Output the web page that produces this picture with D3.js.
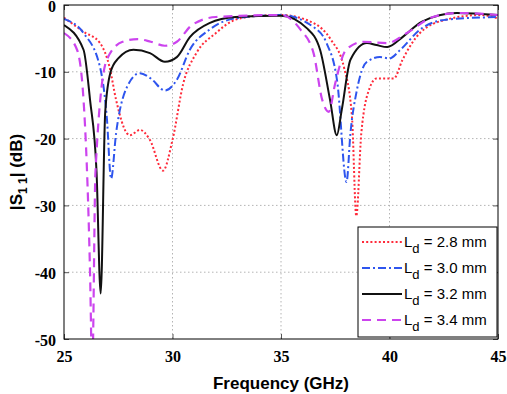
<!DOCTYPE html>
<html>
<head>
<meta charset="utf-8">
<script src="https://cdn.jsdelivr.net/npm/d3@7"></script>
<style>
body { margin: 0; background: #fff; }
svg text.tk { font-family: "Liberation Serif", "DejaVu Serif", serif !important; font-weight: 700; font-size: 16px; }
</style>
</head>
<body>
<script>
// data
const xTicks = [25, 30, 35, 40, 45];
const yTicks = [0, -10, -20, -30, -40, -50];
const legendLabels = ["2.8 mm", "3.0 mm", "3.2 mm", "3.4 mm"];

const f28 = [25, 25.9, 26.66, 27.1, 27.4, 27.9, 28.04, 28.5, 28.96, 29.56, 30.0, 30.5, 31.1, 32.0, 32.9, 34, 35, 36.5, 37.3, 37.9, 38.27, 38.47, 38.7, 39.1, 39.4, 40.2, 40.6, 41.4, 42.6, 44.2, 45];
const s28 = [-1.9, -4.0, -5.7, -9.3, -14.2, -19.2, -19.5, -18.7, -20.2, -24.8, -20.2, -11.7, -7.2, -4.2, -2.2, -1.6, -1.5, -2.7, -5.2, -9.3, -16.7, -31.6, -19.2, -12.3, -11, -11, -8.2, -4.2, -2.2, -1.5, -2];

const f30 = [25, 25.9, 26.66, 26.97, 27.17, 27.4, 27.9, 28.5, 29.0, 29.65, 30.2, 30.8, 31.7, 32.9, 35, 36.5, 37.1, 37.6, 38.02, 38.2, 38.5, 38.96, 39.56, 40.0, 40.5, 41.4, 42.6, 45];
const s30 = [-2.1, -4.2, -9.3, -16.7, -26, -19.2, -12.3, -10.2, -11, -12.8, -11.2, -6.7, -3.7, -2, -1.5, -3.3, -5.7, -11.7, -26.5, -19.2, -12.7, -8.5, -7.8, -8, -6.7, -3.7, -2.2, -1.8];

const f32 = [25, 25.9, 26.2, 26.5, 26.69, 26.9, 27.15, 27.5, 28.2, 28.96, 29.65, 30.2, 30.8, 31.7, 32.9, 35, 36.2, 36.8, 37.26, 37.57, 37.8, 38.2, 38.96, 39.4, 39.9, 40.6, 41.5, 43.1, 45];
const s32 = [-3, -6.7, -14.2, -25, -43.2, -16, -10, -8, -6.7, -7.2, -8.5, -7.8, -4.8, -2.7, -1.8, -1.6, -3.5, -6.7, -14.2, -19.5, -15.7, -8.2, -5.7, -6, -6.3, -4.8, -2.5, -1.2, -1.5];

const f34 = [25, 25.6, 25.9, 26.2, 26.3, 26.45, 26.97, 27.7, 28.4, 29.0, 29.65, 30.2, 30.9, 32.0, 35, 35.9, 36.5, 36.9, 37.2, 37.5, 38.0, 38.8, 39.9, 40.8, 42.0, 43.2, 45];
const s34 = [-4.2, -6.7, -14.2, -40, -55, -25, -8.2, -5.5, -5.1, -5.5, -6.1, -5.5, -3, -1.8, -1.5, -3.7, -7.2, -14.2, -16, -11.7, -6.7, -5.5, -5.7, -4.2, -1.8, -1.2, -1.5];

const series = [
  {f: f28, s: s28, color: "#ff2a3a", dash: "2,2.2", width: 2},
  {f: f30, s: s30, color: "#2e55ee", dash: "8,3,2,3", width: 2},
  {f: f32, s: s32, color: "#111", dash: null, width: 2},
  {f: f34, s: s34, color: "#cc44ee", dash: "9,6", width: 2.2}
];

const margin = {top: 5, right: 9, bottom: 55, left: 64},
    width = 507 - margin.left - margin.right,
    height = 394 - margin.top - margin.bottom;

const svg = d3.select("body").append("svg")
    .attr("width", 507)
    .attr("height", 394);

const g = svg.append("g")
    .attr("transform", "translate(" + margin.left + "," + margin.top + ")");

const x = d3.scaleLinear().domain([25, 45]).range([0, width]);
const y = d3.scaleLinear().domain([-50, 0]).range([height, 0]);

g.append("defs").append("clipPath").attr("id", "clip")
  .append("rect").attr("width", width).attr("height", height);

// grid
g.selectAll(".gx").data(xTicks.slice(1, -1)).enter().append("line")
    .attr("x1", d => x(d)).attr("x2", d => x(d))
    .attr("y1", 0).attr("y2", height)
    .attr("stroke", "#b4b4b4").attr("stroke-dasharray", "1.5,2.5");
g.selectAll(".gy").data(yTicks.slice(1, -1)).enter().append("line")
    .attr("y1", d => y(d)).attr("y2", d => y(d))
    .attr("x1", 0).attr("x2", width)
    .attr("stroke", "#b4b4b4").attr("stroke-dasharray", "1.5,2.5");

// axes
const fmt = d => String(d);
const xAxis = d3.axisBottom(x).tickValues(xTicks).tickFormat(fmt).tickSizeInner(-5).tickSizeOuter(0).tickPadding(12);
const yAxis = d3.axisLeft(y).tickValues(yTicks).tickFormat(fmt).tickSizeInner(-5).tickSizeOuter(0).tickPadding(8);
const gx = g.append("g").attr("transform", "translate(0," + height + ")").call(xAxis)
    .call(a => a.select(".domain").remove());
const gy = g.append("g").call(yAxis)
    .call(a => a.select(".domain").remove());
gy.selectAll(".tick text").attr("dy", "0.38em");
[gx, gy].forEach(a => {
  a.attr("font-family", null).attr("font-size", null);
  a.selectAll(".tick text").classed("tk", true).attr("fill", "#000");
});
// right / top ticks
g.append("g").attr("transform", "translate(" + width + ",0)")
    .call(d3.axisRight(y).tickValues(yTicks).tickSizeInner(-5).tickSizeOuter(0).tickFormat(""))
    .call(a => a.select(".domain").remove());
g.append("g")
    .call(d3.axisTop(x).tickValues(xTicks).tickSizeInner(-5).tickSizeOuter(0).tickFormat(""))
    .call(a => a.select(".domain").remove());
g.selectAll(".tick line").attr("stroke", "#555");

// curves
const line = d3.line()
    .x(d => d[0])
    .y(d => d[1])
    .curve(d3.curveMonotoneX);

const plot = g.append("g").attr("clip-path", "url(#clip)");
series.forEach(sr => {
  const pts = sr.f.map((f, i) => [x(f), y(sr.s[i])]);
  plot.append("path")
      .attr("d", line(pts))
      .attr("fill", "none")
      .attr("stroke", sr.color)
      .attr("stroke-width", sr.width)
      .attr("stroke-dasharray", sr.dash);
});

// frame
g.append("rect").attr("width", width).attr("height", height)
    .attr("fill", "none").attr("stroke", "#000").attr("stroke-width", 1);

// legend
const lg = g.append("g").attr("transform", "translate(" + (358 - margin.left) + "," + (227 - margin.top) + ")");
lg.append("rect").attr("width", 139).attr("height", 110)
    .attr("fill", "#fff").attr("stroke", "#000").attr("stroke-width", 1);
series.forEach((sr, i) => {
  const yy = 15 + i * 26;
  lg.append("line").attr("x1", 4).attr("x2", 44).attr("y1", yy).attr("y2", yy)
      .attr("stroke", sr.color).attr("stroke-width", sr.width)
      .attr("stroke-dasharray", sr.dash);
  const t = lg.append("text").attr("x", 46).attr("y", yy + 5)
      .attr("font-family", "Liberation Sans, Arial, sans-serif")
      .attr("font-size", 15).attr("fill", "#000");
  t.append("tspan").text("L");
  t.append("tspan").attr("dy", 6).attr("font-size", 13).text("d");
  t.append("tspan").attr("dy", -6).text(" = " + legendLabels[i]);
});

// axis labels
svg.append("text")
    .attr("x", margin.left + width / 2).attr("y", 389)
    .attr("text-anchor", "middle")
    .attr("font-family", "Liberation Sans, Arial, sans-serif")
    .attr("font-weight", "bold").attr("font-size", 17)
    .text("Frequency (GHz)");

const yl = svg.append("text")
    .attr("transform", "translate(22," + (margin.top + height / 2) + ") rotate(-90)")
    .attr("text-anchor", "middle")
    .attr("font-family", "Liberation Sans, Arial, sans-serif")
    .attr("font-weight", "bold").attr("font-size", 17);
yl.append("tspan").text("|S");
yl.append("tspan").attr("dy", 5).attr("font-size", 12).text("1 1");
yl.append("tspan").attr("dy", -5).text("| (dB)");
</script>
</body>
</html>
